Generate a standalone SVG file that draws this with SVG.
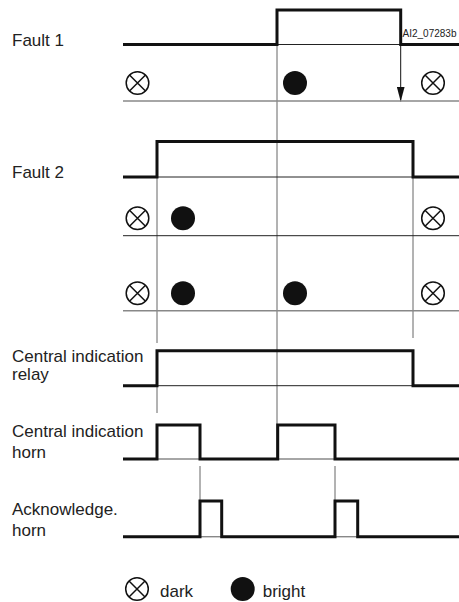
<svg xmlns="http://www.w3.org/2000/svg" width="459" height="602" viewBox="0 0 459 602">
<style>
.sig{fill:none;stroke:#111;stroke-width:3;stroke-linejoin:miter;stroke-linecap:butt}
.thin{fill:none;stroke:#222;stroke-width:1}
.grid{fill:none;stroke:#666;stroke-width:1}
.row{fill:none;stroke:#888;stroke-width:1.4}
.lbl{font-family:"Liberation Sans",Arial,sans-serif;font-size:17px;fill:#222}
.small{font-family:"Liberation Sans",Arial,sans-serif;font-size:10px;fill:#222}
.dark{fill:none;stroke:#111;stroke-width:1.5}
.bright{fill:#111}
</style>
<defs>
<g id="darkSym">
<circle cx="0" cy="0" r="11.3" class="dark"/>
<path d="M-8,-8 L8,8 M8,-8 L-8,8" class="dark"/>
</g>
<marker id="arrow" markerWidth="15" markerHeight="8" refX="15" refY="4" orient="auto" markerUnits="userSpaceOnUse" viewBox="0 0 15 8">
<path d="M0,0 L15,4 L0,8 Z" fill="#111"/>
</marker>
</defs>

<g id="connectors">
<line x1="277" y1="45" x2="277" y2="459" class="grid"/>
<line x1="157" y1="177" x2="157" y2="343" class="grid"/>
<line x1="413" y1="177" x2="413" y2="338" class="grid"/>
<line x1="157" y1="386" x2="157" y2="413" class="grid"/>
<line x1="200" y1="466" x2="200" y2="501" class="grid"/>
<line x1="335" y1="466" x2="335" y2="501" class="grid"/>
<line x1="400.7" y1="45" x2="400.7" y2="101.5" stroke="#111" stroke-width="1" marker-end="url(#arrow)"/>
</g>

<g id="fault1">
<text x="12" y="46" class="lbl">Fault 1</text>
<line x1="277" y1="44.5" x2="400.7" y2="44.5" class="thin"/>
<path d="M123,44.5 H277 V10 H400.7 V44.5 H459" class="sig"/>
<text x="402.5" y="36.5" class="small">AI2_07283b</text>
</g>

<g id="lamps1">
<line x1="123" y1="101" x2="459" y2="101" class="row"/>
<use href="#darkSym" x="137.5" y="83"/>
<circle cx="295" cy="83" r="12" class="bright"/>
<use href="#darkSym" x="433" y="83"/>
</g>

<g id="fault2">
<text x="12" y="178" class="lbl">Fault 2</text>
<line x1="157" y1="177" x2="413" y2="177" class="thin"/>
<path d="M123,177 H157 V141.5 H413 V177 H459" class="sig"/>
</g>

<g id="lamps2">
<line x1="123" y1="235.7" x2="459" y2="235.7" class="thin"/>
<use href="#darkSym" x="137.5" y="218.3"/>
<circle cx="183" cy="218.3" r="12" class="bright"/>
<use href="#darkSym" x="433" y="218.3"/>
</g>

<g id="lamps3">
<line x1="123" y1="310.7" x2="459" y2="310.7" class="row"/>
<use href="#darkSym" x="137.5" y="293.3"/>
<circle cx="183" cy="293.3" r="12" class="bright"/>
<circle cx="295" cy="293.3" r="12" class="bright"/>
<use href="#darkSym" x="433" y="293.3"/>
</g>

<g id="relay">
<text x="12" y="362" class="lbl">Central indication</text>
<text x="12" y="380" class="lbl">relay</text>
<line x1="157" y1="385.7" x2="413" y2="385.7" class="thin"/>
<path d="M123,385.7 H157 V350.7 H413 V385.7 H459" class="sig"/>
</g>

<g id="horn">
<text x="12" y="437" class="lbl">Central indication</text>
<text x="12" y="457.5" class="lbl">horn</text>
<line x1="157" y1="459" x2="200" y2="459" class="row"/>
<line x1="277.7" y1="459" x2="335" y2="459" class="row"/>
<path d="M123,459 H157 V425 H200 V459 H277.7 V425 H335 V459 H459" class="sig"/>
</g>

<g id="ack">
<text x="12" y="515" class="lbl">Acknowledge.</text>
<text x="12" y="535.5" class="lbl">horn</text>
<line x1="200" y1="536.7" x2="221.7" y2="536.7" class="row"/>
<line x1="335" y1="536.7" x2="357.7" y2="536.7" class="row"/>
<path d="M123,536.7 H200 V501 H221.7 V536.7 H335 V501 H357.7 V536.7 H459" class="sig"/>
</g>

<g id="legend">
<use href="#darkSym" x="137" y="589"/>
<text x="160" y="596.5" class="lbl">dark</text>
<circle cx="242.7" cy="589" r="12" class="bright"/>
<text x="262.7" y="596.5" class="lbl">bright</text>
</g>
</svg>
